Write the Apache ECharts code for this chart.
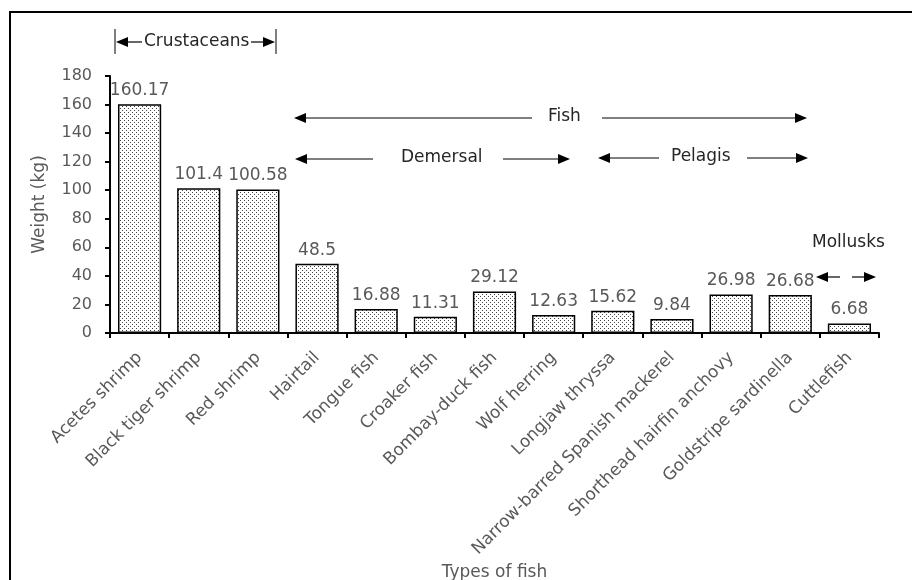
<!DOCTYPE html>
<html>
<head>
<meta charset="utf-8">
<script src="https://cdn.jsdelivr.net/npm/echarts@6/dist/echarts.min.js"></script>
<style>html,body{margin:0;padding:0;background:#fff}#c{width:912px;height:580px}</style>
</head>
<body>
<div id="c"></div>
<script>
var categories = ["Acetes shrimp","Black tiger shrimp","Red shrimp","Hairtail","Tongue fish","Croaker fish","Bombay-duck fish","Wolf herring","Longjaw thryssa","Narrow-barred Spanish mackerel","Shorthead hairfin anchovy","Goldstripe sardinella","Cuttlefish"];
var weights = [160.17,101.4,100.58,48.5,16.88,11.31,29.12,12.63,15.62,9.84,26.98,26.68,6.68];
var valueLabels = ["160.17","101.4","100.58","48.5","16.88","11.31","29.12","12.63","15.62","9.84","26.98","26.68","6.68"];
var yTicks = [0,20,40,60,80,100,120,140,160,180];

var FONT = "DejaVu Sans";
var pc = document.createElement('canvas');
pc.width = 4; pc.height = 4;
var g = pc.getContext('2d');
g.fillStyle = '#fff'; g.fillRect(0,0,4,4);
g.fillStyle = '#444';
g.fillRect(0,0,1,1); g.fillRect(2,2,1,1);

var chart = echarts.init(document.getElementById('c'), null, {renderer:'canvas'});

function arrowHead(tipX, y, dir) {
  var L = 12, H = 5;
  return {type:'polygon', shape:{points:[[tipX,y],[tipX - dir*L, y-H],[tipX - dir*L, y+H]]}, style:{fill:'#000'}, silent:true};
}
function hline(x1, x2, y) {
  return {type:'line', shape:{x1:x1,y1:y,x2:x2,y2:y}, style:{stroke:'#000', lineWidth:1.2}, silent:true};
}
function label(txt, x, y) {
  return {type:'text', style:{text:txt, x:x, y:y, fill:'#262626', font:'17px "'+FONT+'"', textAlign:'left', textVerticalAlign:'middle'}, silent:true};
}

var graphics = [
  {type:'rect', shape:{x:10,y:12,width:1000,height:1000}, style:{fill:'none', stroke:'#000', lineWidth:2}, silent:true},
  {type:'line', shape:{x1:115,y1:29,x2:115,y2:54}, style:{stroke:'#000',lineWidth:1}},
  {type:'line', shape:{x1:276,y1:29,x2:276,y2:54}, style:{stroke:'#000',lineWidth:1}},
  arrowHead(116, 42, -1), hline(128, 142, 42), label('Crustaceans', 144, 42), hline(251, 264, 42), arrowHead(275, 42, 1),
  arrowHead(294, 118, -1), hline(306, 532, 118), label('Fish', 548, 117), hline(602, 795, 118), arrowHead(807, 118, 1),
  arrowHead(295, 159, -1), hline(307, 373, 159), label('Demersal', 401, 158), hline(503, 558, 159), arrowHead(570, 159, 1),
  arrowHead(598, 158, -1), hline(610, 659, 158), label('Pelagis', 671, 157), hline(747, 796, 158), arrowHead(808, 158, 1),
  label('Mollusks', 812, 243),
  arrowHead(816, 277, -1), hline(828, 840, 277), hline(852, 865, 277), arrowHead(876, 277, 1)
];

chart.setOption({
  animation:false,
  backgroundColor:'#fff',
  grid:{left:110, right:33, top:76, bottom:247, containLabel:false, outerBoundsMode:'none'},
  xAxis:{
    type:'category', data:categories,
    name:'Types of fish', nameLocation:'middle', nameGap:231,
    nameTextStyle:{fontFamily:FONT, fontSize:17, color:'#595959'},
    axisLine:{lineStyle:{color:'#000', width:2}},
    axisTick:{show:true, alignWithLabel:false, length:5, lineStyle:{color:'#000', width:2}},
    axisLabel:{rotate:45, interval:0, margin:22, fontFamily:FONT, fontSize:17, color:'#595959'}
  },
  yAxis:{
    type:'value', min:0, max:180, interval:20,
    name:'Weight (kg)', nameLocation:'middle', nameGap:62,
    nameTextStyle:{fontFamily:FONT, fontSize:17, color:'#595959'},
    axisLine:{show:true, lineStyle:{color:'#000', width:2}},
    axisTick:{show:true, length:5, lineStyle:{color:'#000', width:2}},
    splitLine:{show:false},
    axisLabel:{margin:18, fontFamily:FONT, fontSize:16, color:'#595959',
      formatter:function(v){ return yTicks.indexOf(v) >= 0 ? String(v) : ''; }}
  },
  series:[{
    type:'bar', data:weights, barCategoryGap:'27%',
    itemStyle:{color:{image:pc, repeat:'repeat'}, borderColor:'#000', borderWidth:1.5},
    label:{show:true, position:'top', distance:5, fontFamily:FONT, fontSize:17, color:'#595959',
      formatter:function(p){ return valueLabels[p.dataIndex]; }}
  }],
  graphic:graphics
});
</script>
</body>
</html>
